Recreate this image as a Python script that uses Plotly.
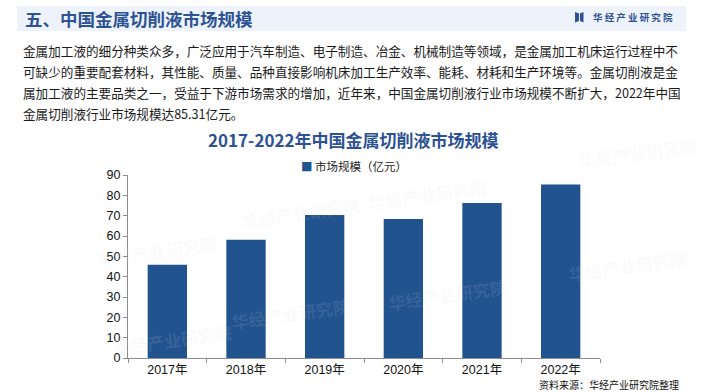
import plotly.graph_objects as go

# ---- data ----
years = ["2017年", "2018年", "2019年", "2020年", "2021年", "2022年"]
market_size = [45.8, 58.1, 70.3, 68.4, 76.2, 85.31]
series_name = "市场规模（亿元）"
y_ticks = [0, 10, 20, 30, 40, 50, 60, 70, 80, 90]

header_title = "五、中国金属切削液市场规模"
brand = "华经产业研究院"
chart_title = "2017-2022年中国金属切削液市场规模"
paragraph_lines = [
    "金属加工液的细分种类众多，广泛应用于汽车制造、电子制造、冶金、机械制造等领域，是金属加工机床运行过程中不",
    "可缺少的重要配套材料，其性能、质量、品种直接影响机床加工生产效率、能耗、材耗和生产环境等。金属切削液是金",
    "属加工液的主要品类之一，受益于下游市场需求的增加，近年来，中国金属切削液行业市场规模不断扩大，2022年中国",
    "金属切削液行业市场规模达85.31亿元。",
]
source_text = "资料来源：华经产业研究院整理"

# ---- layout helpers ----
W, H = 705, 392
L, R, T, B = 128, 105, 175, 34
pw, ph = W - L - R, H - T - B


def px(x):
    return (x - L) / pw


def py(y):
    return (H - B - y) / ph


BAR = "#21538F"
TITLE = "#2D5294"
CJK = "Noto Sans CJK SC"

fig = go.Figure()
fig.add_trace(go.Bar(
    x=years, y=market_size, name=series_name,
    marker=dict(color=BAR, line=dict(width=0)),
    width=0.5, showlegend=False,
))

annotations = []
shapes = []

# watermarks (very faint)
wm = [(300, 190), (95, 228), (290, 336), (490, 172), (510, 294), (420, 30), (110, 362), (690, 265), (700, 130)]
for (x, y) in wm:
    annotations.append(dict(
        x=px(x), y=py(y), xref="paper", yref="paper", text="<b>华经产业研究院</b>",
        showarrow=False, font=dict(family=CJK, size=17, color="rgba(215,218,226,0.13)"),
        textangle=-8,
    ))

# header band
shapes.append(dict(type="rect", xref="paper", yref="paper",
                   x0=px(17), x1=px(686), y0=py(31), y1=py(6),
                   fillcolor="#EEF3FB", line=dict(width=0), layer="below"))
annotations.append(dict(x=px(23), y=py(18.5), xref="paper", yref="paper", xanchor="left",
                        yanchor="middle", text="<b>" + header_title + "</b>", showarrow=False,
                        font=dict(family=CJK, size=17.5, color=TITLE)))
# brand icon + text
shapes.append(dict(type="path", xref="paper", yref="paper",
                   path=f"M {px(575)} {py(12)} L {px(579)} {py(13.5)} L {px(579)} {py(21)} L {px(575)} {py(22.5)} Z",
                   fillcolor=TITLE, line=dict(width=0)))
shapes.append(dict(type="path", xref="paper", yref="paper",
                   path=f"M {px(583.5)} {py(12)} L {px(580)} {py(13.5)} L {px(580)} {py(21)} L {px(583.5)} {py(22.5)} Z",
                   fillcolor=TITLE, line=dict(width=0)))
annotations.append(dict(x=px(591), y=py(17), xref="paper", yref="paper", xanchor="left",
                        yanchor="middle", text="<b>" + " ".join(brand) + "</b>", showarrow=False,
                        font=dict(family=CJK, size=9.5, color=TITLE)))

# paragraph
for i, line in enumerate(paragraph_lines):
    annotations.append(dict(x=px(21), y=py(50.5 + 21 * i), xref="paper", yref="paper",
                            xanchor="left", yanchor="middle", text=line, showarrow=False,
                            font=dict(family=CJK, size=12.6, color="#1a1a1a")))

# chart title
annotations.append(dict(x=px(353), y=py(139), xref="paper", yref="paper", xanchor="center",
                        yanchor="middle", text="<b>" + chart_title + "</b>", showarrow=False,
                        font=dict(family=CJK, size=17, color=TITLE)))

# legend
annotations.append(dict(x=px(299), y=py(166), xref="paper", yref="paper", xanchor="left",
                        yanchor="middle",
                        text=f"<span style='color:{BAR}'>■</span> " + series_name,
                        showarrow=False, font=dict(family=CJK, size=11.5, color="#222222")))

# source
annotations.append(dict(x=px(681), y=py(384), xref="paper", yref="paper", xanchor="right",
                        yanchor="middle", text=source_text, showarrow=False,
                        font=dict(family=CJK, size=10, color="#111111")))

fig.update_layout(
    width=W, height=H,
    margin=dict(l=L, r=R, t=T, b=B, pad=0),
    paper_bgcolor="white", plot_bgcolor="rgba(0,0,0,0)",
    bargap=0.5,
    annotations=annotations, shapes=shapes,
    font=dict(family="Arial, Liberation Sans, " + CJK, size=12, color="#111111"),
)
fig.update_xaxes(
    type="category", showline=True, linecolor="#8C8C8C", linewidth=1,
    ticks="outside", tickson="boundaries", ticklen=4, tickcolor="#8C8C8C",
    showgrid=False, zeroline=False,
    tickfont=dict(family="Arial, Liberation Sans, " + CJK, size=12.5, color="#111111"),
)
fig.update_yaxes(
    range=[0, 90], tickvals=y_ticks, showline=True, linecolor="#8C8C8C", linewidth=1,
    ticks="outside", ticklen=4, tickcolor="#8C8C8C", showgrid=False, zeroline=False,
    tickfont=dict(family="Arial, Liberation Sans", size=12.5, color="#111111"),
)

fig.write_html("out.html", config={"displayModeBar": False},
               post_script="document.body.style.margin='0';document.body.style.overflow='hidden';")
